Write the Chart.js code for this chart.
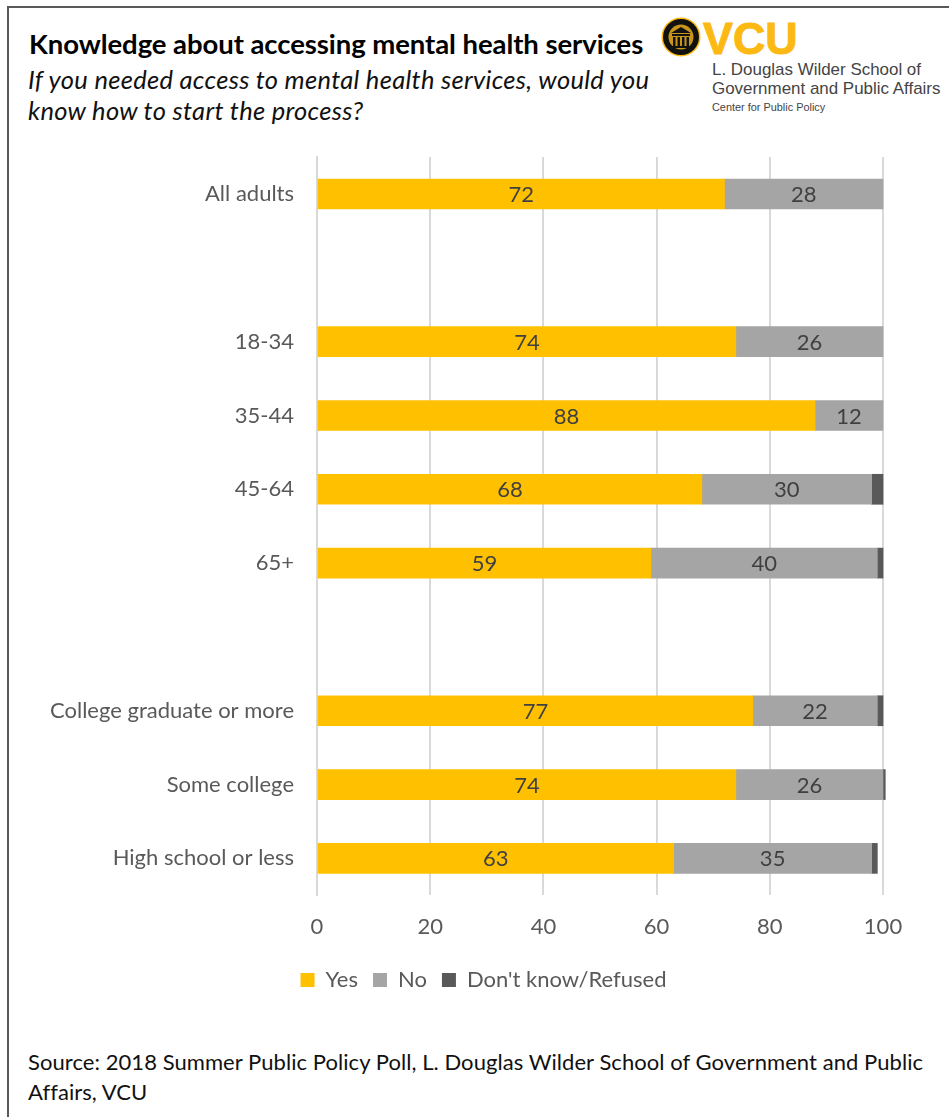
<!DOCTYPE html>
<html>
<head>
<meta charset="utf-8">
<script src="https://cdn.jsdelivr.net/npm/chart.js@4"></script>
<style>
  html, body { margin: 0; padding: 0; background: #fff; }
  body { width: 949px; height: 1117px; position: relative; overflow: hidden; font-family: Lato, sans-serif; }
  .frame-top { position: absolute; left: 7px; right: 0; top: 6px; height: 2px; background: #595959; }
  .frame-left { position: absolute; left: 7px; top: 6px; bottom: 0; width: 2px; background: #595959; }
  .txt { position: absolute; white-space: nowrap; color: #000; }
  #title { left: 29px; top: 27px; font-size: 27.5px; font-weight: 700; letter-spacing: -0.07px; }
  #sub { left: 28px; top: 64px; font-size: 25.5px; font-style: italic; line-height: 31px; letter-spacing: 0.3px; color: #111; }
  #source { left: 28px; top: 1047px; font-size: 22px; line-height: 30px; letter-spacing: 0.06px; color: #111; }
  #vcu { left: 703px; top: 13px; font: 700 44.8px "Liberation Sans", sans-serif; color: #FDB913; -webkit-text-stroke: 1px #FDB913; }
  .logo { font-family: "Liberation Sans", sans-serif; color: #444; }
  #l1 { left: 712px; top: 60px; font-size: 16.95px; }
  #l2 { left: 712px; top: 79px; font-size: 16.95px; }
  #l3 { left: 712px; top: 101px; font-size: 10.9px; }
  #seal { position: absolute; left: 661px; top: 17px; }
  canvas { position: absolute; left: 0; top: 0; }
</style>
</head>
<body>
<div class="frame-top"></div>
<div class="frame-left"></div>
<div class="txt" id="title">Knowledge about accessing mental health services</div>
<div class="txt" id="sub">If you needed access to mental health services, would you<br>know how to start the process?</div>
<svg id="seal" width="40" height="40" viewBox="0 0 40 40">
  <circle cx="20" cy="20" r="19.5" fill="#FDB913"/>
  <circle cx="20" cy="20" r="18" fill="#111"/>
  <circle cx="20" cy="20" r="12.5" fill="#C8951A"/>
  <path d="M10 16 L20 10 L30 16 Z M11 17 h18 v2 h-18 Z M12 20 h2.5 v9 h-2.5 Z M16.5 20 h2.5 v9 h-2.5 Z M21 20 h2.5 v9 h-2.5 Z M25.5 20 h2.5 v9 h-2.5 Z M10.5 29 h19 v2 h-19 Z" fill="#111"/>
</svg>
<div class="txt" id="vcu">VCU</div>
<div class="txt logo" id="l1">L. Douglas Wilder School of</div>
<div class="txt logo" id="l2">Government and Public Affairs</div>
<div class="txt logo" id="l3">Center for Public Policy</div>
<canvas id="chart" width="949" height="1007"></canvas>
<div class="txt" id="source">Source: 2018 Summer Public Policy Poll, L. Douglas Wilder School of Government and Public<br>Affairs, VCU</div>

<script>
const categories = ['All adults', '', '18-34', '35-44', '45-64', '65+', '', 'College graduate or more', 'Some college', 'High school or less'];
const yesValues = [72, null, 74, 88, 68, 59, null, 77, 74, 63];
const noValues = [28, null, 26, 12, 30, 40, null, 22, 26, 35];
const dkValues = [null, null, null, null, 2, 1, null, 1, 0.4, 1];
const xTicks = [0, 20, 40, 60, 80, 100];

const textColor = '#595959';
const gridColor = '#d9d9d9';
const fontFamily = 'Lato, sans-serif';

// value labels in the middle of the Yes and No segments
const valueLabels = {
    id: 'valueLabels',
    afterDatasetsDraw(chart) {
        const ctx = chart.ctx;
        ctx.save();
        ctx.font = '22px ' + fontFamily;
        ctx.fillStyle = '#404040';
        ctx.textAlign = 'center';
        ctx.textBaseline = 'middle';
        [0, 1].forEach(i => {
            const meta = chart.getDatasetMeta(i);
            meta.data.forEach((bar, j) => {
                const value = chart.data.datasets[i].data[j];
                if (value == null) return;
                const p = bar.getProps(['x', 'y', 'base'], true);
                ctx.fillText(value, (p.x + p.base) / 2, p.y + 1);
            });
        });
        ctx.restore();
    }
};

// left padding keeps the legend centred where it should be, but the long
// category labels need to run past it without getting clipped
const widenLabelArea = {
    id: 'widenLabelArea',
    afterLayout(chart) {
        chart.scales.y.left = 0;
    }
};

new Chart(document.getElementById('chart').getContext('2d'), {
    type: 'bar',
    data: {
        labels: categories,
        datasets: [
            { label: 'Yes', data: yesValues, backgroundColor: '#FFC000', barThickness: 30, clip: false },
            { label: 'No', data: noValues, backgroundColor: '#A5A5A5', barThickness: 30, clip: false },
            { label: "Don't know/Refused", data: dkValues, backgroundColor: '#595959', barThickness: 30, clip: false }
        ]
    },
    options: {
        indexAxis: 'y',
        responsive: false,
        animation: false,
        layout: { padding: { top: 157.1, right: 66, left: 84, bottom: 6 } },
        scales: {
            x: {
                stacked: true,
                min: 0,
                max: 100,
                afterBuildTicks: axis => { axis.ticks = xTicks.map(v => ({ value: v })); },
                afterFit: axis => { axis.height = 58.7; },
                grid: { color: gridColor, lineWidth: 2, drawTicks: false },
                border: { display: false },
                ticks: { color: textColor, padding: 18, maxRotation: 0, font: { family: fontFamily, size: 22 } }
            },
            y: {
                stacked: true,
                afterFit: axis => { axis.width = 233; },
                grid: { display: false },
                border: { color: gridColor, width: 2 },
                ticks: { color: textColor, padding: 15, autoSkip: false, font: { family: fontFamily, size: 22 } }
            }
        },
        plugins: {
            title: { display: false },
            tooltip: { enabled: false },
            legend: {
                position: 'bottom',
                labels: {
                    color: textColor,
                    boxWidth: 14,
                    boxHeight: 14,
                    padding: 15,
                    font: { family: fontFamily, size: 22 }
                }
            }
        }
    },
    plugins: [valueLabels, widenLabelArea]
});
</script>
</body>
</html>
